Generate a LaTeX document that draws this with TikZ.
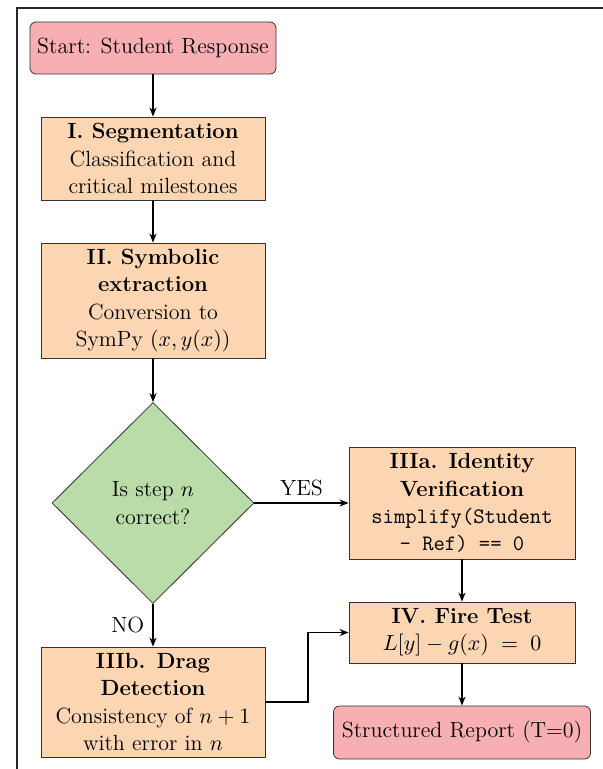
\documentclass[tikz,border=0pt]{standalone}
\usetikzlibrary{arrows.meta,shapes.geometric}
\definecolor{pinkfill}{RGB}{248,175,180}
\definecolor{peachfill}{RGB}{252,214,178}
\definecolor{greenfill}{RGB}{186,220,168}
\begin{document}
\begin{tikzpicture}[x=0.5pt,y=-0.5pt,
  every node/.style={font=\fontsize{11}{13.6}\selectfont, align=center, inner sep=0pt},
  termbox/.style={draw=black!80, line width=0.4pt, fill=pinkfill, rounded corners=3pt},
  procbox/.style={draw=black!80, line width=0.4pt, fill=peachfill},
  decbox/.style={draw=black!80, line width=0.4pt, fill=greenfill, diamond, aspect=1},
  conn/.style={line width=0.8pt, -{Stealth[length=4.5pt,width=3.5pt]}},
  lbl/.style={font=\fontsize{11}{13.6}\selectfont}]
\useasboundingbox (0,0) rectangle (603,769);
\draw[line width=0.7pt, black!85] (17,769) -- (17,8) -- (603,8);

\node[termbox, minimum width=123pt, minimum height=26pt] (start) at (153,48) {Start: Student Response};
\node[procbox, minimum width=112pt, minimum height=41.5pt] (seg) at (153,158.5)
  {\textbf{I. Segmentation}\\Classification and\\critical milestones};
\node[procbox, minimum width=112pt, minimum height=57.5pt] (sym) at (153,300.5)
  {\textbf{II. Symbolic}\\\textbf{extraction}\\Conversion to\\SymPy $(x,y(x))$};
\node[decbox, minimum width=101pt, minimum height=100.5pt] (dec) at (153,503)
  {Is step $n$\\correct?};
\node[procbox, minimum width=113pt, minimum height=56pt] (ida) at (462,503)
  {\textbf{IIIa. Identity}\\\textbf{Verification}\\\texttt{simplify(Student}\\\texttt{- Ref) == 0}};
\node[procbox, minimum width=113pt, minimum height=30.5pt] (fire) at (462,632.5)
  {\textbf{IV. Fire Test}\\$L[y]-g(x)\;=\;0$};
\node[termbox, minimum width=128.5pt, minimum height=26.5pt] (rep) at (462,732.5)
  {Structured Report (T=0)};
\node[procbox, minimum width=112pt, minimum height=55pt] (drag) at (153,702)
  {\textbf{IIIb. Drag}\\\textbf{Detection}\\Consistency of $n+1$\\with error in $n$};

\draw[conn] (start) -- (seg);
\draw[conn] (seg) -- (sym);
\draw[conn] (sym) -- (dec.north);
\draw[conn] (dec.east) -- node[lbl, above=3pt] (yes) {YES} (ida.west);
\draw[conn] (dec.south) -- node[lbl, left=4pt, pos=0.5] (no) {NO} (drag.north);
\draw[conn] (ida) -- (fire);
\draw[conn] (fire) -- (rep);
\coordinate (b1) at (308,702);
\draw[conn] (drag.east) -- (b1) |- (fire.west);
\end{tikzpicture}
\end{document}
